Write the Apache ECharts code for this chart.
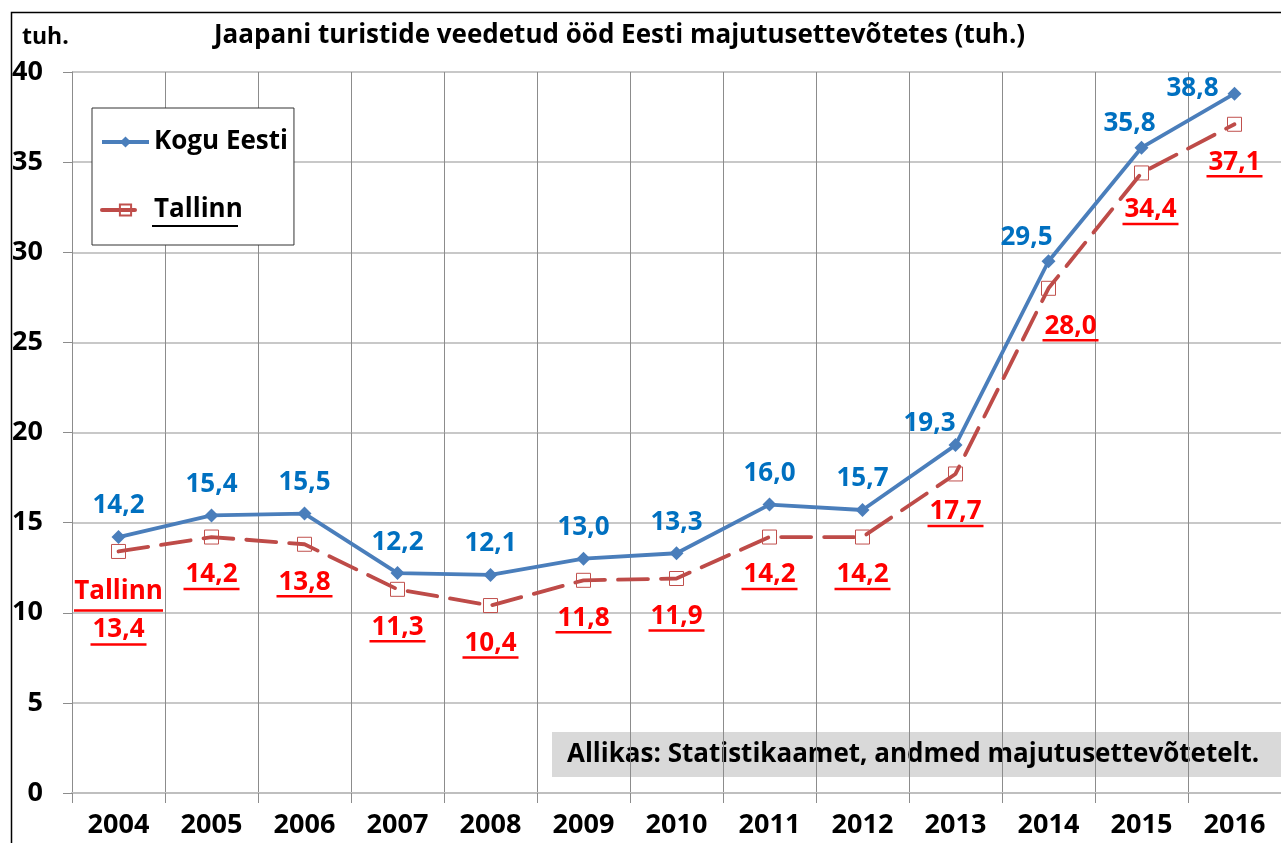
<!DOCTYPE html>
<html>
<head>
<meta charset="utf-8">
<script src="https://cdn.jsdelivr.net/npm/echarts@6/dist/echarts.min.js"></script>
<style>
  html, body { margin: 0; padding: 0; background: #fff; }
  #chart { width: 1281px; height: 843px; }
</style>
</head>
<body>
<div id="chart"></div>
<script>
const years = ['2004', '2005', '2006', '2007', '2008', '2009', '2010', '2011', '2012', '2013', '2014', '2015', '2016'];
const koguEesti = [14.2, 15.4, 15.5, 12.2, 12.1, 13.0, 13.3, 16.0, 15.7, 19.3, 29.5, 35.8, 38.8];
const tallinn = [13.4, 14.2, 13.8, 11.3, 10.4, 11.8, 11.9, 14.2, 14.2, 17.7, 28.0, 34.4, 37.1];
const yTicks = { min: 0, max: 40, interval: 5 };

// label nudges [dx, dy] from the point
const koguOffsets = {9: [-26, -22], 10: [-22, -24], 11: [-12, -24], 12: [-42, -5]};
const tallinnOffsets = {10: [22, 40], 11: [9, 39]};

const FONT = 'Open Sans';
const LABEL_SIZE = 26;
const fmt = v => v.toFixed(1).replace('.', ',');

const ctx = document.createElement('canvas').getContext('2d');
function textWidth(s, size) {
  ctx.font = 'bold ' + size + 'px "' + FONT + '"';
  return ctx.measureText(s).width;
}

const redText = { fontSize: LABEL_SIZE, fontWeight: 'bold', fontFamily: FONT, color: '#ff0000' };

const koguData = koguEesti.map((v, i) => ({
  value: v,
  label: { offset: koguOffsets[i] || [0, -31] }
}));

const tallinnData = tallinn.map((v, i) => {
  const txt = fmt(v);
  const w = Math.round(textWidth(txt, LABEL_SIZE)) + 4;
  if (i === 0) {
    const w0 = Math.round(textWidth('Tallinn', LABEL_SIZE));
    return {
      value: v,
      label: {
        offset: [0, 61],
        formatter: '{t|Tallinn}\n{u1|}\n{v|' + txt + '}\n{u|}',
        rich: {
          t: Object.assign({ lineHeight: 26 }, redText),
          u1: { width: w0, height: 2.5, lineHeight: 12, backgroundColor: '#ff0000' },
          v: Object.assign({ lineHeight: 26 }, redText),
          u: { width: w, height: 2.5, lineHeight: 4, backgroundColor: '#ff0000' }
        }
      }
    };
  }
  return {
    value: v,
    label: {
      offset: tallinnOffsets[i] || [0, 40],
      formatter: '{v|' + txt + '}\n{u|}',
      rich: {
        v: Object.assign({ lineHeight: 24 }, redText),
        u: { width: w, height: 2.5, lineHeight: 4, backgroundColor: '#ff0000' }
      }
    }
  };
});

const chart = echarts.init(document.getElementById('chart'));
chart.setOption({
  animation: false,
  backgroundColor: '#fff',
  textStyle: { fontFamily: FONT },
  title: {
    text: 'Jaapani turistide veedetud ööd Eesti majutusettevõtetes (tuh.)',
    left: 214,
    top: 23,
    padding: 0,
    textStyle: { fontSize: 26, fontWeight: 'bold', color: '#000', fontFamily: FONT }
  },
  legend: {
    left: 92,
    top: 108,
    orient: 'vertical',
    backgroundColor: '#fff',
    borderColor: '#333',
    borderWidth: 1,
    padding: [21, 6, 22, 8],
    itemGap: 42,
    itemWidth: 47,
    itemHeight: 14,
    textStyle: { fontSize: 26, fontWeight: 'bold', color: '#000', fontFamily: FONT, lineHeight: 26 },
    data: [
      { name: 'Kogu Eesti', lineStyle: { width: 4 } },
      { name: 'Tallinn', lineStyle: { width: 4, type: [33, 20] } }
    ]
  },
  grid: { left: 72, top: 72, width: 1222, bottom: 50, containLabel: false },
  xAxis: {
    type: 'category',
    data: years,
    boundaryGap: true,
    axisLine: { lineStyle: { color: '#bfbfbf', width: 2 } },
    axisTick: { show: true, length: 10, interval: 0, lineStyle: { color: '#8c8c8c', width: 1 } },
    splitLine: { show: true, interval: 0, lineStyle: { color: '#8c8c8c', width: 1 } },
    axisLabel: { interval: 0, margin: 19, fontSize: 27, fontWeight: 'bold', color: '#000', fontFamily: FONT }
  },
  yAxis: {
    type: 'value',
    min: yTicks.min,
    max: yTicks.max,
    interval: yTicks.interval,
    axisLine: { show: true, lineStyle: { color: '#8c8c8c', width: 1 } },
    axisTick: { show: true, length: 9, lineStyle: { color: '#8c8c8c' } },
    splitLine: { show: true, lineStyle: { color: '#c8c8c8', width: 2 } },
    axisLabel: { margin: 29, fontSize: 27, fontWeight: 'bold', color: '#000', fontFamily: FONT }
  },
  series: [
    {
      name: 'Kogu Eesti',
      type: 'line',
      data: koguData,
      z: 3,
      symbol: 'diamond',
      symbolSize: 14,
      itemStyle: { color: '#4a7ebb' },
      lineStyle: { color: '#4a7ebb', width: 3.8 },
      label: {
        show: true,
        position: 'inside',
        formatter: p => fmt(p.value),
        fontSize: LABEL_SIZE,
        fontWeight: 'bold',
        fontFamily: FONT,
        color: '#0070c0'
      }
    },
    {
      name: 'Tallinn',
      type: 'line',
      data: tallinnData,
      z: 2,
      symbol: 'rect',
      symbolSize: 14,
      itemStyle: { color: 'transparent', borderColor: '#c0504d', borderWidth: 1 },
      lineStyle: { color: '#be4b48', width: 3.8, type: [30, 13], cap: 'round' },
      label: { show: true, position: 'inside' }
    }
  ],
  graphic: [
    {
      type: 'rect',
      left: 9, top: 10, z: 100, silent: true,
      shape: { width: 1400, height: 900 },
      style: { fill: 'none', stroke: '#000', lineWidth: 1.5 }
    },
    {
      type: 'text',
      left: 22, top: 26, z: 100,
      style: { text: 'tuh.', fontSize: 23, fontWeight: 'bold', fontFamily: FONT, fill: '#000' }
    },
    {
      type: 'group',
      left: 552, top: 732, z: 100,
      children: [
        { type: 'rect', shape: { width: 740, height: 45 }, style: { fill: '#d9d9d9' } },
        {
          type: 'text', x: 15, y: 22.5,
          style: {
            text: 'Allikas: Statistikaamet, andmed majutusettevõtetelt.',
            fontSize: 26, fontWeight: 'bold', fontFamily: FONT, fill: '#000',
            verticalAlign: 'middle'
          }
        }
      ]
    },
    {
      // underline under the "Tallinn" legend entry
      type: 'rect',
      left: 152, top: 225, z: 100,
      shape: { width: 86, height: 2 },
      style: { fill: '#000' }
    }
  ]
});
</script>
</body>
</html>
